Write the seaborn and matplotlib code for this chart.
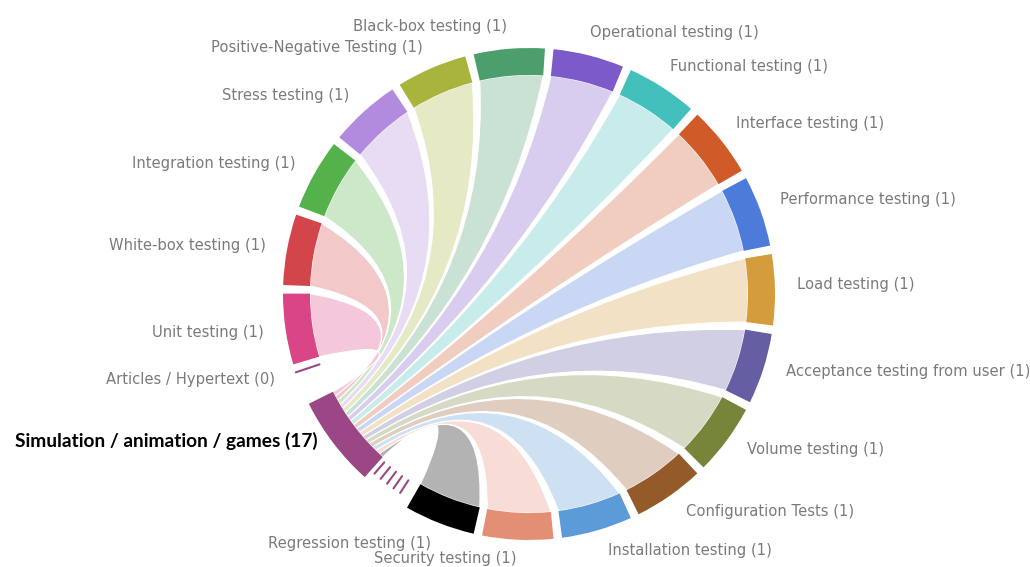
import numpy as np
import matplotlib
matplotlib.use("Agg")
import matplotlib.pyplot as plt
from matplotlib.path import Path
from matplotlib.patches import PathPatch, Wedge
import matplotlib.colors as mcolors
import seaborn as sns

# groups in clockwise order, starting at the top of the circle
groups = ["Black-box testing", "Operational testing", "Functional testing",
          "Interface testing", "Performance testing", "Load testing",
          "Acceptance testing from user", "Volume testing", "Configuration Tests",
          "Installation testing", "Security testing", "Regression testing",
          "Simulation / animation / games", "Articles / Hypertext",
          "Unit testing", "White-box testing", "Integration testing",
          "Stress testing", "Positive-Negative Testing"]
counts = [1, 1, 1, 1, 1, 1, 1, 1, 1, 1, 1, 1, 17, 0, 1, 1, 1, 1, 1]
colors = ["#4c9f6d", "#7c5ac9", "#43bfbc", "#d05a28", "#4d7bd9", "#d49c3c",
          "#655ea3", "#76853a", "#945a2a", "#5b9bd8", "#e38f76", "#000000",
          "#9c4785", "#9c4785", "#da4585", "#d2464b", "#55b24a", "#b28ade",
          "#a9b43c"]

hub = "Simulation / animation / games"
# every testing type is linked once to the hub
link_sources = [g for g, c in zip(groups, counts) if g != hub and c > 0]
link_values = [1] * len(link_sources)

# ---- layout ----
R_OUT, R_IN = 246, 219
START = 103.0
GAP = 2.0
HATCH_FRAC = 0.32
display_weight = {hub: 1.9, "Articles / Hypertext": 0.35}

weights = np.array([display_weight.get(g, 1.0) for g in groups])
unit = (360 - GAP * len(groups)) / weights.sum()
spans = {}
a = START
for g, w in zip(groups, weights):
    spans[g] = (a, a - w * unit)
    a -= w * unit + GAP


def pt(ang, r=R_IN):
    t = np.radians(ang)
    return [r * np.cos(t), r * np.sin(t)]


def arc_pts(a0, a1, r=R_IN, n=40):
    t = np.radians(np.linspace(a0, a1, n))
    return np.column_stack([r * np.cos(t), r * np.sin(t)])


def ctrl(a0, a1, r=R_IN):
    d = (a1 - a0 + 180) % 360 - 180
    mid = np.radians(a0 + d / 2)
    rc = 0.5 * r * (1 - abs(d) / 180)
    return [rc * np.cos(mid), rc * np.sin(mid)]


def ribbon(a0, a1, b0, b1):
    p = arc_pts(a0, a1)
    q = arc_pts(b0, b1)
    verts = list(p) + [ctrl(a1, b0), pt(b0)] + list(q[1:]) + [ctrl(b1, a0), pt(a0), pt(a0)]
    codes = ([Path.MOVETO] + [Path.LINETO] * (len(p) - 1) + [Path.CURVE3] * 2
             + [Path.LINETO] * (len(q) - 1) + [Path.CURVE3] * 2 + [Path.CLOSEPOLY])
    return Path(verts, codes)


def light(c, alpha=0.3):
    rgb = np.array(mcolors.to_rgb(c))
    return tuple(alpha * rgb + (1 - alpha) * 1.0)


sns.set_theme(style="white")
plt.rcParams["font.family"] = ["DejaVu Sans"]

fig = plt.figure(figsize=(10.3, 5.67), dpi=100)
ax = fig.add_axes([0, 0, 1, 1])
ax.set_xlim(-529, 501)
ax.set_ylim(-273, 294)
ax.set_aspect("equal")
ax.axis("off")

color_of = dict(zip(groups, colors))

# hub sub-spans: from its start (after the hatched part) to its end
hs, he = spans[hub]
solid_start = hs - HATCH_FRAC * (hs - he)
# order along the hub: nearest group before the hub comes first
hub_idx = groups.index(hub)
order = [groups[(hub_idx - k) % len(groups)] for k in range(1, len(groups))]
order = [g for g in order if g in link_sources]
step = (solid_start - he) / sum(link_values)
b = solid_start
for g in order:
    a0, a1 = spans[g]
    v = link_values[link_sources.index(g)]
    path = ribbon(a0, a1, b, b - v * step)
    ax.add_patch(PathPatch(path, facecolor=light(color_of[g]), edgecolor="white",
                           lw=0.8, zorder=1))
    b -= v * step

# outer arcs
for g, c in zip(groups, colors):
    s, e = spans[g]
    if g == hub:
        ax.add_patch(Wedge((0, 0), R_OUT, e, solid_start, width=R_OUT - R_IN,
                           facecolor=c, edgecolor="none", zorder=2))
        for ang in np.linspace(s - 1.2, solid_start + 1.2, 5):
            p0, p1 = pt(ang, R_IN + 3), pt(ang, R_OUT - 9)
            ax.plot([p0[0], p1[0]], [p0[1], p1[1]], color=c, lw=1.5, zorder=3)
    elif counts[groups.index(g)] == 0:
        m = (s + e) / 2 - 3.0
        p0, p1 = pt(m, R_IN + 2), pt(m, R_OUT)
        ax.plot([p0[0], p1[0]], [p0[1], p1[1]], color=c, lw=1.5, zorder=3)
    else:
        ax.add_patch(Wedge((0, 0), R_OUT, e, s, width=R_OUT - R_IN,
                           facecolor=c, edgecolor="none", zorder=2))

# labels
R_LAB = 268
for g, n in zip(groups, counts):
    s, e = spans[g]
    m = (s + e) / 2
    right = np.cos(np.radians(m)) > 0
    if right:
        m += 1.0
    if n == 0:
        m -= 3.0
    if g == hub:
        m = (solid_start + e) / 2 - 4
    x, y = pt(m, R_LAB)
    y = max(y, -264)
    ha = "left" if right else "right"
    if g == hub:
        ax.text(x + 13, y, f"{g} ({n})", ha=ha, va="center", fontsize=13.8,
                fontweight="bold", color="black", family=["Lato", "DejaVu Sans"])
    else:
        ax.text(x, y, f"{g} ({n})", ha=ha, va="center", fontsize=10.6,
                color="#7a7a7a")

fig.savefig("out.png", dpi=100, facecolor="white")
